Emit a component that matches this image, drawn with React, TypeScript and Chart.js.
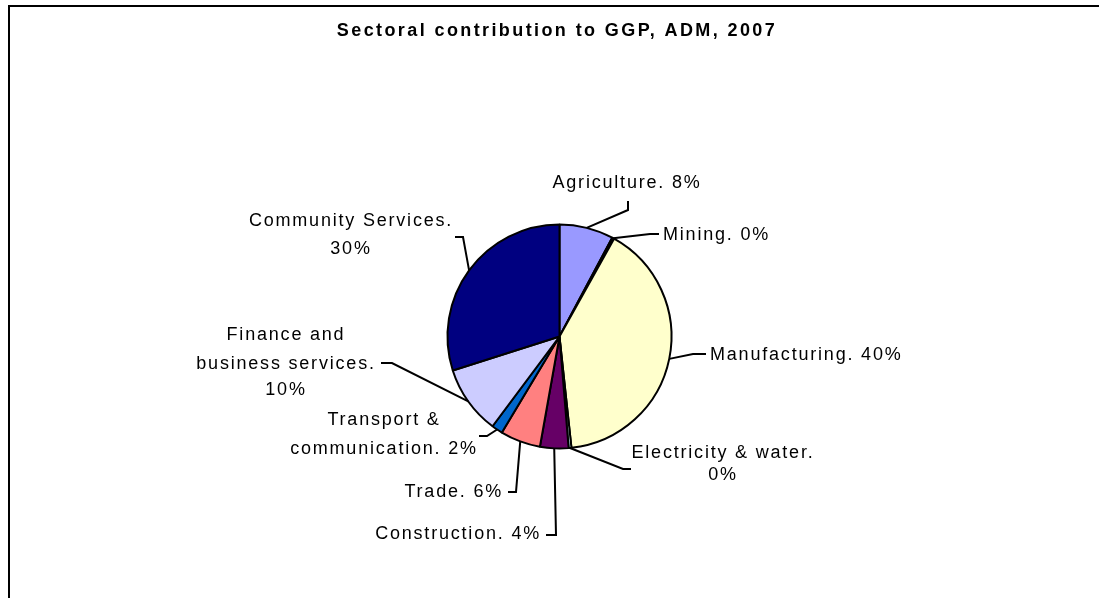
import React, { useEffect, useRef } from "react";
import { Chart, registerables } from "chart.js";

Chart.register(...registerables);

// ---------- data ----------
const TITLE = "Sectoral contribution to GGP, ADM, 2007";
const categories = [
  "Agriculture",
  "Mining",
  "Manufacturing",
  "Electricity & water",
  "Construction",
  "Trade",
  "Transport &\ncommunication",
  "Finance and\nbusiness services",
  "Community Services",
];
const shares = [7.8, 0.3, 40.2, 0.4, 4.1, 5.8, 1.6, 9.9, 29.9];
const colors = ["#9999FF", "#993366", "#FFFFCC", "#CCFFFF", "#660066", "#FF8080", "#0066CC", "#CCCCFF", "#000080"];
const pctOnNewLine = [false, false, false, true, false, false, false, true, true];

// ---------- label layout (style, relative to the reference pie centre) ----------
const REF_CX = 559.5;
const REF_CY = 336.5;
type Layout = { align: CanvasTextAlign; x: number; ys: number[]; leader: number[][] };
const labelLayout: Layout[] = [
  { align: "center", x: 627, ys: [183.5], leader: [[628, 201], [628, 210]] },
  { align: "left", x: 663, ys: [235], leader: [[659, 234], [650, 234]] },
  { align: "left", x: 710, ys: [355], leader: [[706, 354], [693, 354]] },
  { align: "center", x: 723, ys: [453.5, 475], leader: [[631, 469], [623, 469]] },
  { align: "right", x: 541, ys: [534], leader: [[546, 535], [556, 535]] },
  { align: "right", x: 503, ys: [492.5], leader: [[508, 492], [516, 492]] },
  { align: "center", x: 384, ys: [420, 449], leader: [[479, 436], [487, 436]] },
  { align: "center", x: 286, ys: [335.5, 364, 390.5], leader: [[381, 363], [392, 363]] },
  { align: "center", x: 351, ys: [221.5, 249], leader: [[455, 237], [463, 237]] },
];

const W = 1099;
const H = 598;

function labelLines(i: number): string[] {
  const pct = Math.round(shares[i]) + "%";
  const lines = (categories[i] + ".").split("\n");
  if (pctOnNewLine[i]) lines.push(pct);
  else lines[lines.length - 1] += " " + pct;
  return lines;
}

const decorPlugin = {
  id: "decor",
  beforeDraw(chart: any) {
    const ctx = chart.ctx as CanvasRenderingContext2D;
    ctx.save();
    ctx.fillStyle = "#ffffff";
    ctx.fillRect(0, 0, W, H);
    ctx.fillStyle = "#000000";
    ctx.fillRect(8, 5, 2, H - 5);
    ctx.fillRect(8, 5, W - 8, 2);
    // title
    ctx.font = "bold 18px 'Liberation Sans', Arial, sans-serif";
    (ctx as any).letterSpacing = "2.4px";
    ctx.textAlign = "center";
    ctx.textBaseline = "middle";
    ctx.fillText(TITLE, 557, 31);
    ctx.restore();
  },
  afterDraw(chart: any) {
    const ctx = chart.ctx as CanvasRenderingContext2D;
    const meta = chart.getDatasetMeta(0);
    ctx.save();
    ctx.strokeStyle = "#000000";
    ctx.lineWidth = 2;
    ctx.fillStyle = "#000000";
    ctx.font = "18px 'Liberation Sans', Arial, sans-serif";
    (ctx as any).letterSpacing = "1.8px";
    ctx.textBaseline = "middle";
    meta.data.forEach((arc: any, i: number) => {
      const p = arc.getProps(["x", "y", "startAngle", "endAngle", "outerRadius"], true);
      const mid = (p.startAngle + p.endAngle) / 2;
      const ex = p.x + p.outerRadius * Math.cos(mid);
      const ey = p.y + p.outerRadius * Math.sin(mid);
      const L = labelLayout[i];
      const ox = p.x - REF_CX;
      const oy = p.y - REF_CY;
      ctx.beginPath();
      L.leader.forEach((pt, k) => {
        if (k === 0) ctx.moveTo(pt[0] + ox, pt[1] + oy);
        else ctx.lineTo(pt[0] + ox, pt[1] + oy);
      });
      ctx.lineTo(ex, ey);
      ctx.stroke();
      ctx.textAlign = L.align;
      const lines = labelLines(i);
      lines.forEach((t, k) => {
        ctx.fillText(t, L.x + ox, L.ys[k] + oy);
      });
    });
    ctx.restore();
  },
};

export default function App() {
  const ref = useRef<HTMLCanvasElement | null>(null);
  useEffect(() => {
    document.body.style.margin = "0";
    const canvas = ref.current;
    if (!canvas) return;
    const chart = new Chart(canvas, {
      type: "pie",
      data: {
        labels: categories.map((c) => c.replace("\n", " ")),
        datasets: [
          {
            data: shares,
            backgroundColor: colors,
            borderColor: "#000000",
            borderWidth: 2,
            radius: 112,
          } as any,
        ],
      },
      options: {
        responsive: false,
        maintainAspectRatio: false,
        animation: false,
        devicePixelRatio: 1,
        layout: { padding: { left: 447, right: 427, top: 225, bottom: 150 } },
        plugins: {
          legend: { display: false },
          tooltip: { enabled: false },
          title: { display: false },
        },
      },
      plugins: [decorPlugin],
    });
    return () => chart.destroy();
  }, []);
  return (
    <div style={{ position: "absolute", left: 0, top: 0, width: W, height: H }}>
      <canvas ref={ref} width={W} height={H} style={{ display: "block", width: W, height: H }} />
    </div>
  );
}
